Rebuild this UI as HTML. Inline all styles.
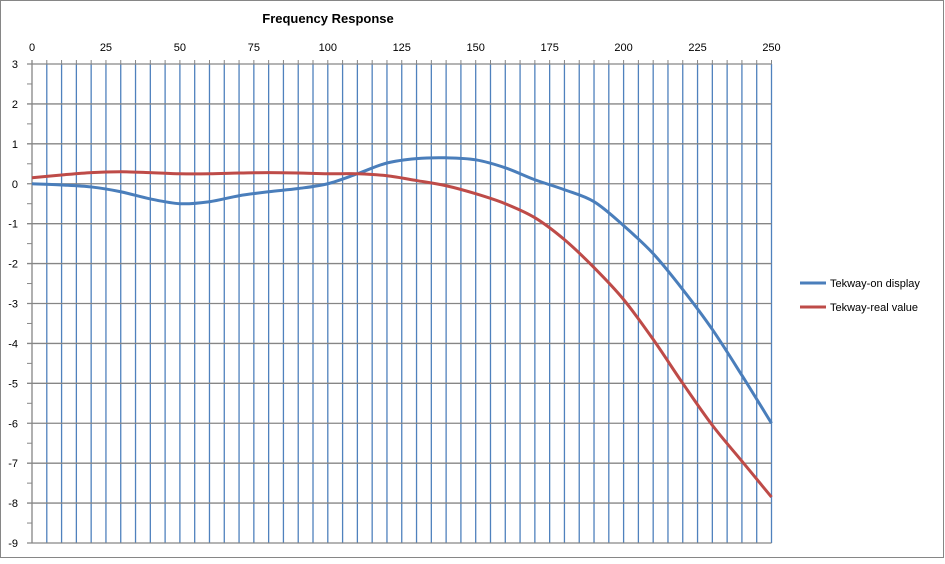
<!DOCTYPE html>
<html><head><meta charset="utf-8"><style>
body{margin:0;background:#fff;font-family:"Liberation Sans",sans-serif}
svg text{font-family:"Liberation Sans",sans-serif}
</style></head><body>
<svg id="c" width="945" height="559">
<rect x="0.5" y="0.5" width="943" height="557" fill="#fff" stroke="#868686"/>
<text x="328" y="23" font-size="13" font-weight="bold" text-anchor="middle">Frequency Response</text>
<g id="grid"></g><g id="series"></g>
<g>
<line x1="800" y1="283" x2="826" y2="283" stroke="#4a7ebb" stroke-width="3"/>
<text x="830" y="287" font-size="11">Tekway-on display</text>
<line x1="800" y1="307" x2="826" y2="307" stroke="#be4b48" stroke-width="3"/>
<text x="830" y="311" font-size="11">Tekway-real value</text>
</g>
</svg>
<script>
const freq=[0,10,20,30,40,50,60,70,80,90,100,110,120,130,140,150,160,170,180,190,200,210,220,230,240,250];
const onDisplay=[0,-0.03,-0.08,-0.2,-0.38,-0.5,-0.45,-0.3,-0.2,-0.12,0,0.25,0.52,0.63,0.65,0.6,0.4,0.1,-0.15,-0.45,-1.05,-1.75,-2.65,-3.65,-4.8,-6.0];
const realValue=[0.15,0.22,0.28,0.3,0.28,0.25,0.25,0.27,0.28,0.27,0.25,0.25,0.2,0.08,-0.05,-0.25,-0.5,-0.85,-1.4,-2.1,-2.9,-3.9,-5.0,-6.05,-6.95,-7.85];
const xTicks=[0,25,50,75,100,125,150,175,200,225,250];
const yTicks=[3,2,1,0,-1,-2,-3,-4,-5,-6,-7,-8,-9];
const X0=32,X1=771.5,Y0=64,Y1=543;
const xs=v=>X0+(v-0)/250*(X1-X0);
const ys=v=>Y0+(3-v)/12*(Y1-Y0);
const NS="http://www.w3.org/2000/svg";
const grid=document.getElementById('grid'),ser=document.getElementById('series');
function mk(tag,attrs,parent){const e=document.createElementNS(NS,tag);for(const k in attrs)e.setAttribute(k,attrs[k]);parent.appendChild(e);return e;}
for(let v=5;v<=250;v+=5){const l=mk('line',{x1:xs(v),x2:xs(v),y1:Y0,y2:Y1,stroke:'#4f81bd','stroke-width':1.3},grid);

}
for(const v of yTicks){const l=mk('line',{x1:X0-5,x2:X1,y1:ys(v),y2:ys(v),stroke:'#868686','stroke-width':1.3},grid);


const t=mk('text',{x:18,y:ys(v)+4,'font-size':11,'text-anchor':'end'},grid);t.textContent=v;


if(v>-9){const m=mk('line',{x1:X0-5,x2:X0,y1:ys(v-0.5),y2:ys(v-0.5),stroke:'#868686'},grid);

}}
const ax=mk('line',{x1:X0,x2:X0,y1:Y0-4,y2:Y1,stroke:'#868686','stroke-width':1.3},grid);


for(let v=0;v<=250;v+=5){const l=mk('line',{x1:xs(v),x2:xs(v),y1:Y0-4,y2:Y0,stroke:'#868686'},grid);

}
for(const v of xTicks){const t=mk('text',{x:xs(v),y:51,'font-size':11,'text-anchor':'middle'},grid);t.textContent=v;

}
function path(vals){const p=freq.map((f,i)=>[xs(f),ys(vals[i])]);let d='M'+p[0][0]+','+p[0][1];
for(let i=0;i<p.length-1;i++){const a=p[Math.max(0,i-1)],b=p[i],c=p[i+1],e=p[Math.min(p.length-1,i+2)];
d+=' C'+(b[0]+(c[0]-a[0])/6)+','+(b[1]+(c[1]-a[1])/6)+' '+(c[0]-(e[0]-b[0])/6)+','+(c[1]-(e[1]-b[1])/6)+' '+c[0]+','+c[1];}return d;}
const s1=mk('path',{d:path(onDisplay),fill:'none',stroke:'#4a7ebb','stroke-width':3},ser);


const s2=mk('path',{d:path(realValue),fill:'none',stroke:'#be4b48','stroke-width':3},ser);


</script>
</body></html>
